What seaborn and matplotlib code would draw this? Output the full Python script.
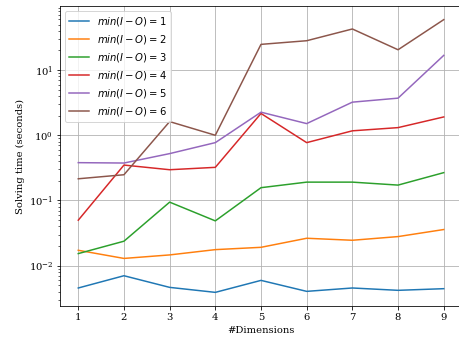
import numpy as np
import pandas as pd
import seaborn as sns
import matplotlib
matplotlib.use('Agg')
import matplotlib.pyplot as plt

# Solving times, one list per min(I-O) value
dims = [1, 2, 3, 4, 5, 6, 7, 8, 9]
t_1 = [0.00454, 0.0070, 0.00464, 0.00389, 0.00594, 0.00403, 0.00454, 0.00418, 0.00443]
t_2 = [0.0172, 0.0129, 0.0146, 0.0176, 0.0191, 0.0263, 0.0245, 0.0279, 0.0358]
t_3 = [0.0153, 0.0237, 0.0942, 0.0486, 0.157, 0.191, 0.191, 0.172, 0.267]
t_4 = [0.0498, 0.349, 0.296, 0.322, 2.16, 0.771, 1.17, 1.31, 1.91]
t_5 = [0.380, 0.375, 0.523, 0.771, 2.26, 1.51, 3.22, 3.71, 16.8]
t_6 = [0.215, 0.248, 1.62, 1.0, 24.8, 28.2, 42.7, 20.5, 59.4]
series = [t_1, t_2, t_3, t_4, t_5, t_6]
labels = [rf'$min(I-O) = {k}$' for k in range(1, 7)]

# Build long-form table for seaborn
rows = []
for lab, vals in zip(labels, series):
    for d, v in zip(dims, vals):
        rows.append({'dim': d, 'time': v, 'group': lab})
df = pd.DataFrame(rows)

plt.rcParams['font.family'] = 'serif'
plt.rcParams['mathtext.fontset'] = 'dejavusans'

fig = plt.figure(figsize=(459 / 72, 339 / 72), dpi=72)
ax = fig.add_axes([60 / 459, 33 / 339, 402 / 459, 300 / 339])

sns.lineplot(data=df, x='dim', y='time', hue='group', hue_order=labels,
             palette='tab10', ax=ax, linewidth=1.5)

ax.set_yscale('log')
ax.grid(True)
ax.set_xticks(dims)
ax.set_xlabel('#Dimensions')
ax.set_ylabel('Solving time (seconds)')
ax.legend(loc='upper left')

fig.savefig('out.png', dpi=72)
